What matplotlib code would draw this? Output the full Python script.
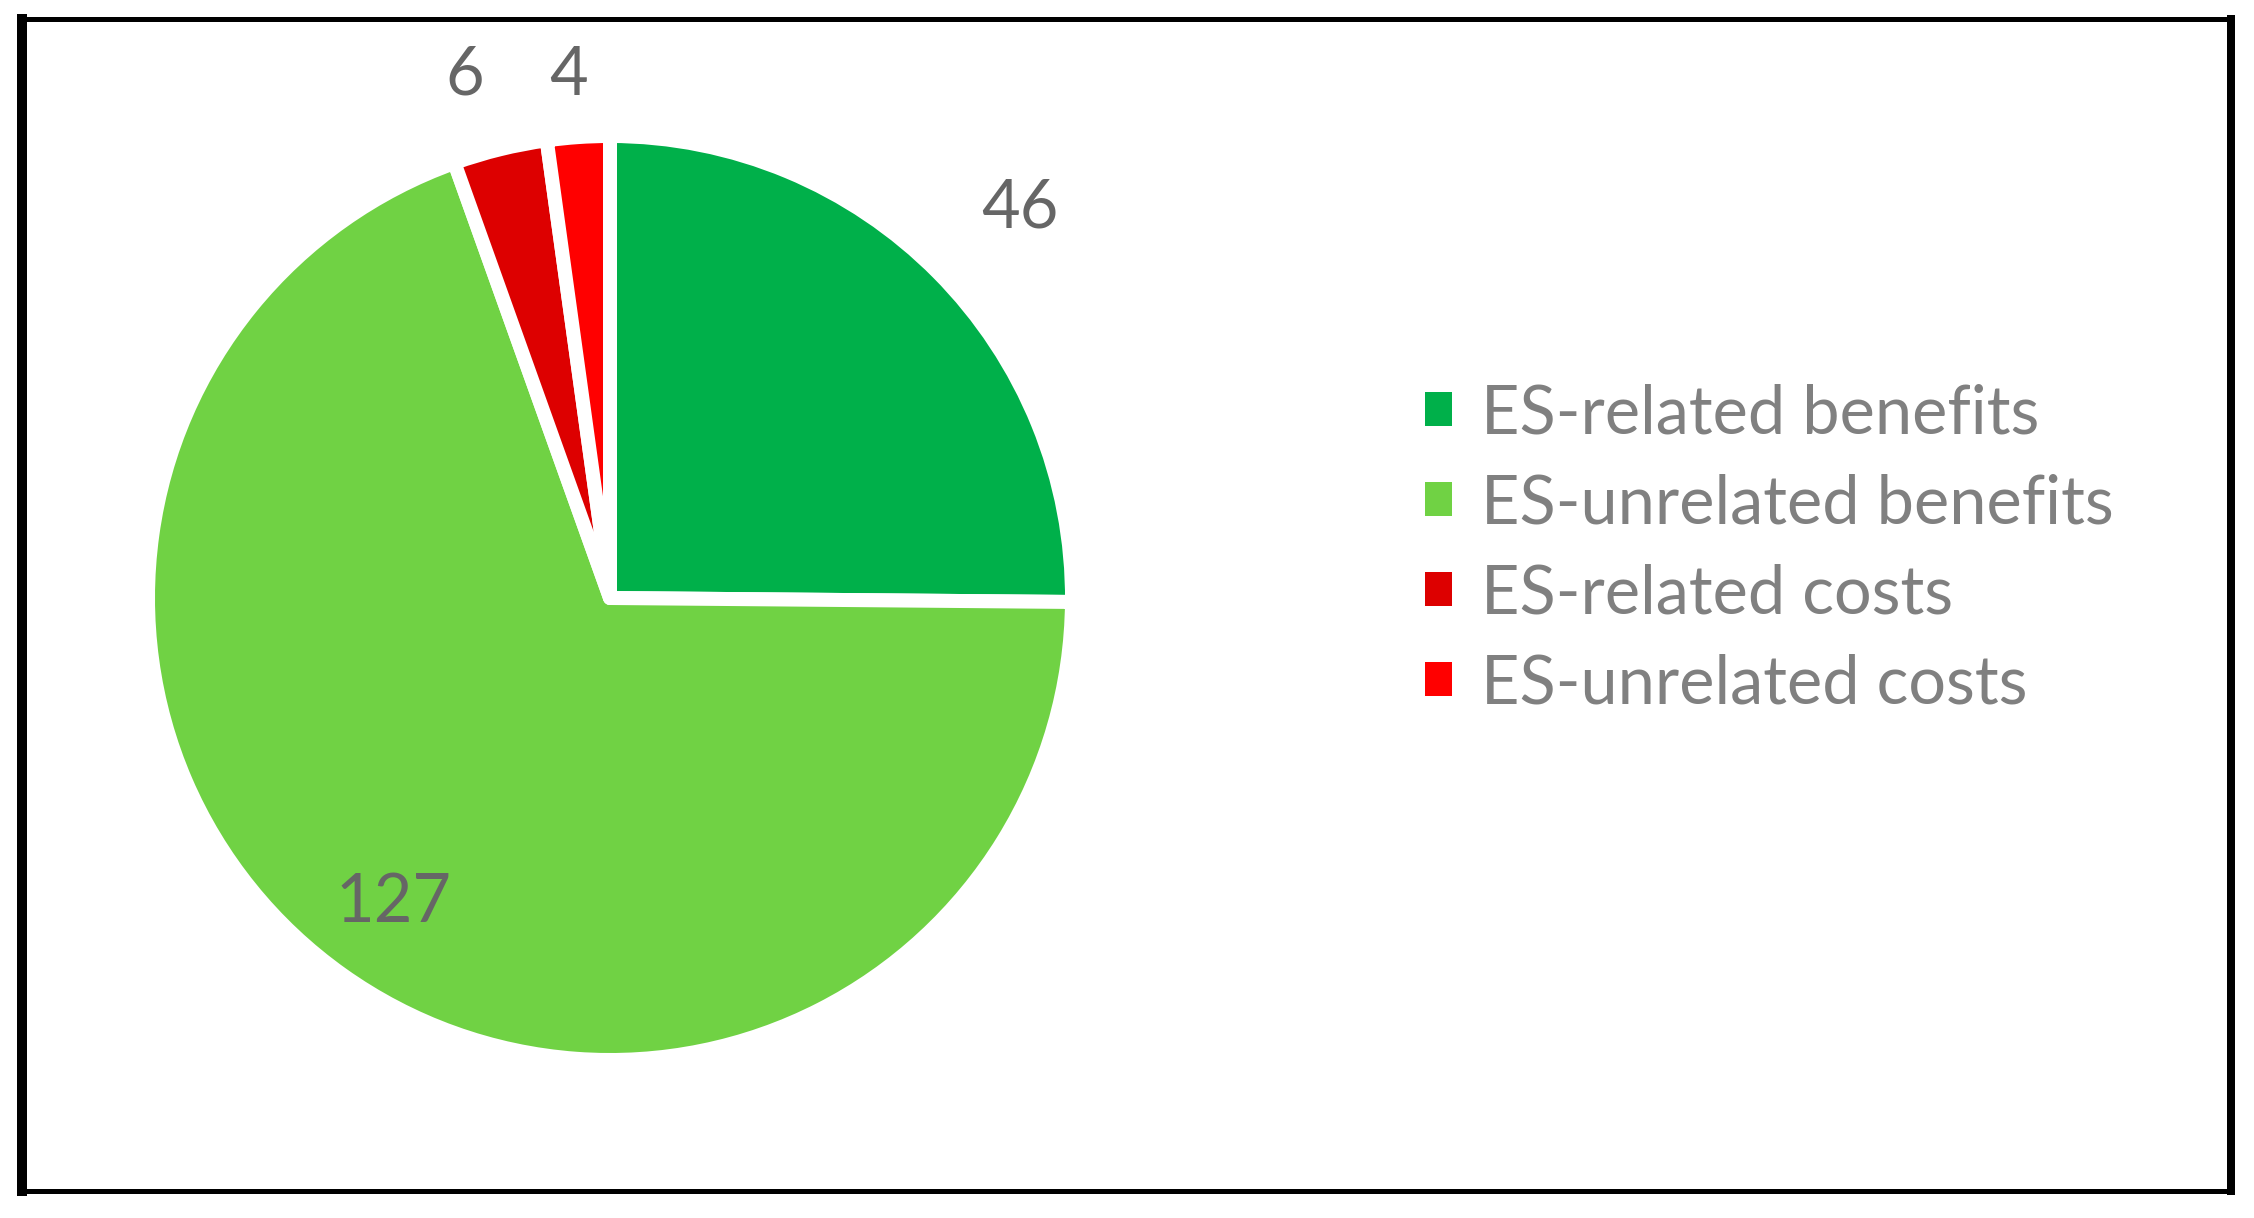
import numpy as np
from matplotlib import pyplot as plt
from matplotlib.lines import Line2D
from matplotlib.patches import Patch

# data
categories = ['ES-related benefits', 'ES-unrelated benefits',
              'ES-related costs', 'ES-unrelated costs']
counts = [46, 127, 6, 4]
colors = ['#00B04A', '#70D244', '#DD0000', '#FF0000']

W, H = 2254, 1218
DPI = 100
PX = 72.0 / DPI  # points per pixel

plt.rcParams['font.family'] = ['Lato', 'DejaVu Sans']

fig = plt.figure(figsize=(W / DPI, H / DPI), dpi=DPI)
fig.patch.set_facecolor('white')

# pie axes placed by pixel center / radius
cx, cy, R = 610, 598, 462
ax = fig.add_axes([(cx - R) / W, 1 - (cy + R) / H, 2 * R / W, 2 * R / H])

wedges, _ = ax.pie(counts, colors=colors, startangle=90, counterclock=False,
                   radius=1,
                   wedgeprops=dict(edgecolor='white', linewidth=14 * PX,
                                   joinstyle='round'))
# pie() resets the limits, so set them afterwards
ax.set_xlim(-1, 1)
ax.set_ylim(-1, 1)
ax.set_aspect('equal')
ax.axis('off')
for w in wedges:
    w.set_clip_on(False)

# data labels, placed along each slice's middle angle (small nudges in deg)
label_dist = [1.225, 0.81, 1.175, 1.134]
label_shift = [-1.2, 0.0, 1.8, 0.6]
for w, n, d, s in zip(wedges, counts, label_dist, label_shift):
    mid = np.deg2rad((w.theta1 + w.theta2) / 2 + s)
    ax.text(d * np.cos(mid), d * np.sin(mid), str(n), ha='center', va='center',
            fontsize=48, color='#666666', clip_on=False)

# legend
handles = [Patch(facecolor=c, edgecolor='none') for c in colors]
fs = 48
fpx = fs / PX
leg = fig.legend(handles, categories, loc='center left',
                 bbox_to_anchor=(1425 / W, 1 - 549 / H),
                 frameon=False, fontsize=fs, borderpad=0, borderaxespad=0,
                 handlelength=27 / fpx, handleheight=27 / fpx,
                 handletextpad=29 / fpx, labelspacing=0.42)
for t in leg.get_texts():
    t.set_color('#808080')

# outer frame
def frame_line(x0, y0, x1, y1, wpx):
    fig.add_artist(Line2D([x0 / W, x1 / W], [1 - y0 / H, 1 - y1 / H],
                          transform=fig.transFigure, color='black',
                          linewidth=wpx * PX, solid_capstyle='projecting'))

frame_line(22, 18.5, 22, 1190.5, 10)
frame_line(2231, 18.5, 2231, 1190.5, 8)
frame_line(22, 18.5, 2231, 18.5, 5)
frame_line(22, 1190.5, 2231, 1190.5, 5)

fig.savefig('out.png', dpi=DPI)
